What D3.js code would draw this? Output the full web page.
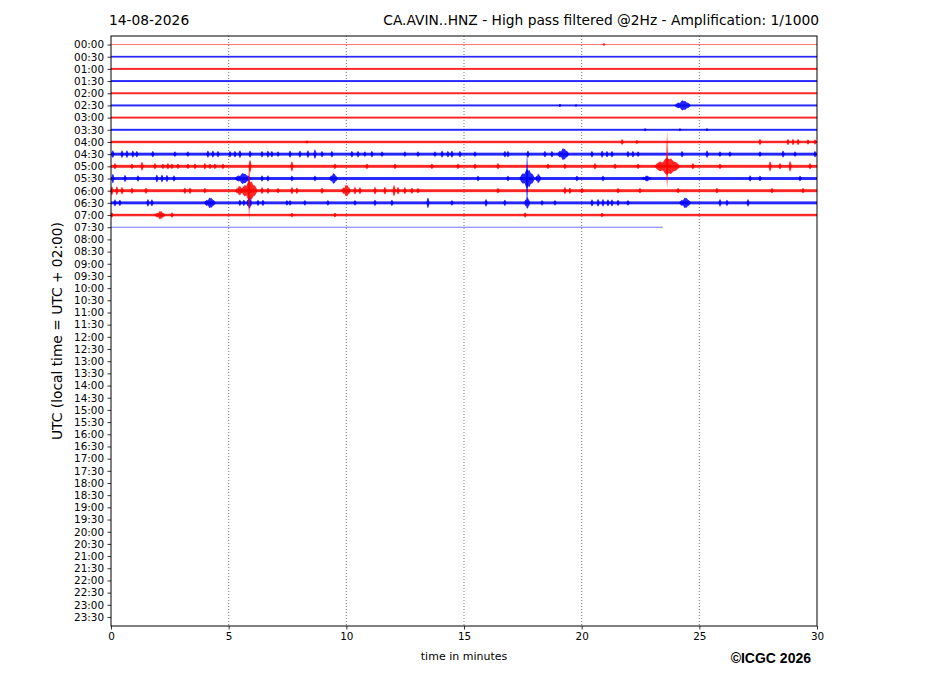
<!DOCTYPE html>
<html>
<head>
<meta charset="utf-8">
<script src="https://cdn.jsdelivr.net/npm/d3@7"></script>
<style>
  body { margin: 0; background: #fff; }
  svg text { font-family: "DejaVu Sans", sans-serif; fill: #000; }
</style>
</head>
<body>
<div id="chart"></div>
<script>
// helicorder rows: one row per 30 minutes
var rowLabels = ["00:00","00:30","01:00","01:30","02:00","02:30","03:00","03:30",
  "04:00","04:30","05:00","05:30","06:00","06:30","07:00","07:30",
  "08:00","08:30","09:00","09:30","10:00","10:30","11:00","11:30",
  "12:00","12:30","13:00","13:30","14:00","14:30","15:00","15:30",
  "16:00","16:30","17:00","17:30","18:00","18:30","19:00","19:30",
  "20:00","20:30","21:00","21:30","22:00","22:30","23:00","23:30"];
var xTicks = [0, 5, 10, 15, 20, 25, 30];
var gridMinutes = [5, 10, 15, 20, 25];

// background noise half-height per recorded row (in row units)
var rowNoise = [0.04, 0.07, 0.08, 0.08, 0.08, 0.08, 0.08, 0.08,
  0.1, 0.12, 0.12, 0.12, 0.12, 0.12, 0.1, 0.04];
// last minute of data in each row
var rowEnd = [30, 30, 30, 30, 30, 30, 30, 30, 30, 30, 30, 30, 30, 30, 30, 23.45];

// short spikes: [row, minute, amplitude]
var spikes = [
  [0, 20.95, 0.1],
  [5, 19.08, 0.12], [5, 19.76, 0.1],
  [7, 22.7, 0.12], [7, 24.18, 0.12], [7, 25.33, 0.12],
  [8, 8.33, 0.12], [8, 21.72, 0.22], [8, 22.35, 0.16], [8, 27.58, 0.25], [8, 28.77, 0.25],
  [8, 28.98, 0.25], [8, 29.2, 0.25], [8, 29.62, 0.2], [8, 29.92, 0.2],
  [9, 0.08, 0.3], [9, 0.47, 0.3], [9, 0.68, 0.3], [9, 0.93, 0.28], [9, 1.1, 0.25], [9, 1.78, 0.25],
  [9, 2.72, 0.22], [9, 3.27, 0.22], [9, 4.12, 0.28], [9, 4.33, 0.28], [9, 4.55, 0.25], [9, 5.06, 0.25],
  [9, 5.27, 0.25], [9, 5.48, 0.3], [9, 5.91, 0.28], [9, 6.42, 0.25], [9, 6.67, 0.28], [9, 6.84, 0.25],
  [9, 7.1, 0.22], [9, 7.61, 0.28], [9, 8.03, 0.28], [9, 8.37, 0.3], [9, 8.67, 0.38], [9, 8.97, 0.25],
  [9, 9.39, 0.25], [9, 10.24, 0.25], [9, 10.5, 0.25], [9, 10.79, 0.22], [9, 11.09, 0.25], [9, 11.52, 0.22],
  [9, 12.49, 0.22], [9, 13.05, 0.22], [9, 13.77, 0.22], [9, 14.07, 0.28], [9, 14.32, 0.25], [9, 14.49, 0.28],
  [9, 14.83, 0.25], [9, 15.47, 0.22], [9, 16.74, 0.25], [9, 16.87, 0.25], [9, 17.72, 0.28], [9, 18.44, 0.25],
  [9, 18.74, 0.25], [9, 20.44, 0.25], [9, 20.87, 0.28], [9, 21.08, 0.25], [9, 21.29, 0.25], [9, 21.97, 0.25],
  [9, 22.18, 0.25], [9, 22.4, 0.22], [9, 24.27, 0.25], [9, 25.33, 0.3], [9, 25.88, 0.22], [9, 26.3, 0.22],
  [9, 27.58, 0.22], [9, 28.56, 0.28], [9, 29.07, 0.22], [9, 29.92, 0.25],
  [10, 0.17, 0.25], [10, 0.89, 0.22], [10, 1.32, 0.35], [10, 1.87, 0.25], [10, 2.21, 0.22], [10, 2.42, 0.25],
  [10, 2.59, 0.22], [10, 2.85, 0.22], [10, 3.27, 0.22], [10, 3.57, 0.22], [10, 3.99, 0.25], [10, 4.21, 0.22],
  [10, 4.42, 0.22], [10, 4.76, 0.22], [10, 5.91, 0.5], [10, 7.69, 0.4], [10, 9.52, 0.22], [10, 10.88, 0.22],
  [10, 12.07, 0.22], [10, 13.64, 0.22], [10, 14.75, 0.22], [10, 15.47, 0.22], [10, 16.45, 0.25], [10, 18.57, 0.22],
  [10, 19.29, 0.22], [10, 20.57, 0.25], [10, 21.42, 0.22], [10, 22.4, 0.22], [10, 24.73, 0.25], [10, 25.88, 0.22],
  [10, 28.01, 0.4], [10, 28.43, 0.25], [10, 28.86, 0.42], [10, 29.71, 0.25],
  [11, 0.08, 0.38], [11, 0.6, 0.28], [11, 1.15, 0.25], [11, 1.95, 0.3], [11, 2.17, 0.3], [11, 2.38, 0.28],
  [11, 2.68, 0.25], [11, 6.42, 0.25], [11, 6.67, 0.25], [11, 7.69, 0.22], [11, 8.67, 0.22], [11, 15.6, 0.22],
  [11, 16.87, 0.22], [11, 19.8, 0.22], [11, 20.91, 0.22], [11, 27.16, 0.25], [11, 27.58, 0.22], [11, 29.28, 0.22],
  [12, 0.04, 0.35], [12, 0.25, 0.35], [12, 0.47, 0.3], [12, 0.89, 0.25], [12, 1.49, 0.25], [12, 3.14, 0.25],
  [12, 3.36, 0.25], [12, 3.99, 0.22], [12, 6.42, 0.28], [12, 6.67, 0.25], [12, 7.1, 0.22], [12, 7.69, 0.28],
  [12, 7.9, 0.25], [12, 8.97, 0.25], [12, 10.37, 0.3], [12, 10.58, 0.28], [12, 11.22, 0.3], [12, 11.64, 0.3],
  [12, 12.03, 0.45], [12, 12.2, 0.3], [12, 12.49, 0.28], [12, 12.79, 0.25], [12, 13.05, 0.22], [12, 16.45, 0.22],
  [12, 19.29, 0.28], [12, 19.5, 0.25], [12, 20.02, 0.22], [12, 21.55, 0.22], [12, 22.48, 0.22], [12, 24.1, 0.22],
  [12, 25.75, 0.22], [12, 28.09, 0.22], [12, 29.41, 0.22],
  [13, 0.17, 0.28], [13, 0.38, 0.25], [13, 1.57, 0.3], [13, 1.74, 0.28], [13, 5.48, 0.25], [13, 5.65, 0.25],
  [13, 6.25, 0.25], [13, 6.46, 0.25], [13, 7.48, 0.22], [13, 7.61, 0.22], [13, 8.24, 0.22], [13, 9.22, 0.22],
  [13, 10.37, 0.22], [13, 11.22, 0.25], [13, 11.94, 0.25], [13, 13.47, 0.42], [13, 14.49, 0.22], [13, 15.94, 0.3],
  [13, 16.74, 0.25], [13, 18.32, 0.22], [13, 18.87, 0.22], [13, 20.44, 0.28], [13, 20.7, 0.3], [13, 20.91, 0.3],
  [13, 21.12, 0.28], [13, 21.29, 0.28], [13, 21.55, 0.25], [13, 21.97, 0.22], [13, 25.88, 0.3], [13, 26.18, 0.25],
  [13, 27.07, 0.3],
  [14, 0.04, 0.2], [14, 2.6, 0.2], [14, 7.69, 0.18], [14, 9.52, 0.18], [14, 17.6, 0.2], [14, 20.87, 0.18]
];

// wave trains: [row, centre minute, amplitude, duration]
var bursts = [
  [5, 24.29, 0.42, 0.7],
  [9, 19.21, 0.5, 0.5],
  [10, 23.63, 0.72, 1.1],
  [11, 5.6, 0.45, 0.7], [11, 9.45, 0.45, 0.35], [11, 17.68, 0.8, 0.65], [11, 18.15, 0.4, 0.25], [11, 22.75, 0.25, 0.4],
  [12, 5.45, 0.4, 0.35], [12, 5.87, 0.85, 0.7], [12, 9.99, 0.5, 0.4],
  [13, 4.2, 0.45, 0.5], [13, 5.87, 0.5, 0.25], [13, 17.68, 0.5, 0.25], [13, 24.39, 0.45, 0.5],
  [14, 2.08, 0.35, 0.45]
];

// thin peaks of the strongest arrivals: [row, minute, up, down]
var peaks = [
  [10, 23.63, 2.95, 1.8],
  [11, 17.68, 2.3, 2.6],
  [12, 5.87, 2.5, 2.5]
];

var width = 927, height = 696;
var margin = { top: 36, right: 110, bottom: 70, left: 111 };
var plotW = width - margin.left - margin.right;
var plotH = height - margin.top - margin.bottom;

var svg = d3.select("#chart").append("svg")
  .attr("width", width)
  .attr("height", height);

var g = svg.append("g")
  .attr("transform", "translate(" + margin.left + "," + margin.top + ")");

var xScale = d3.scaleLinear().domain([0, 30]).range([0, plotW]);
var yScale = d3.scaleLinear().domain([-0.7, rowLabels.length - 0.26]).range([0, plotH]);

function rowColor(r) { return r % 2 === 0 ? "#ff0000" : "#0000ff"; }

// dotted vertical grid
g.selectAll(".grid")
  .data(gridMinutes)
  .enter().append("line")
  .attr("class", "grid")
  .attr("x1", function (d) { return xScale(d); })
  .attr("x2", function (d) { return xScale(d); })
  .attr("y1", 0)
  .attr("y2", plotH)
  .attr("stroke", "#555")
  .attr("stroke-width", 0.8)
  .attr("stroke-dasharray", "1,2");

var traces = g.append("g").attr("class", "traces");

/*  background noise band of each row  */
traces.selectAll(".noise")
  .data(rowNoise)
  .enter().append("rect")
  .attr("class", "noise")
  .attr("x", 0)
  .attr("y", function (d, i) { return yScale(i - d); })
  .attr("width", function (d, i) { return xScale(rowEnd[i]); })
  .attr("height", function (d, i) { return Math.max(1, yScale(i + d) - yScale(i - d)); })
  .attr("fill", function (d, i) { return rowColor(i); })
  .attr("fill-opacity", function (d, i) { return (i === 0 || i === 15) ? 0.55 : 0.85; });

var area = d3.area()
  .x(function (p) { return xScale(p[0]); })
  .y0(function (p) { return yScale(p[2] + p[1]); })
  .y1(function (p) { return yScale(p[2] - p[1]); });

/*  spikes as narrow bars  */
var spikeShape = [[-0.07, 0], [-0.02, 1], [0.02, 0.9], [0.07, 0]];
traces.selectAll(".spike")
  .data(spikes)
  .enter().append("path")
  .attr("class", "spike")
  .attr("d", function (d) {
    return area(spikeShape.map(function (s) { return [d[1] + s[0], s[1] * d[2], d[0]]; }));
  })
  .attr("fill", function (d) { return rowColor(d[0]); })
  .attr("fill-opacity", 0.85);

/*  wave trains as jagged spindles centred on their peak  */
var spindle = [[-0.5, 0], [-0.38, 0.35], [-0.27, 0.55], [-0.17, 0.45], [-0.07, 0.85], [0, 1],
  [0.07, 0.8], [0.15, 0.88], [0.25, 0.55], [0.34, 0.5], [0.44, 0.25], [0.5, 0]];
traces.selectAll(".burst")
  .data(bursts)
  .enter().append("path")
  .attr("class", "burst")
  .attr("d", function (d) {
    return area(spindle.map(function (s) {
      return [d[1] + s[0] * d[3], s[1] * d[2], d[0]];
    }));
  })
  .attr("fill", function (d) { return rowColor(d[0]); })
  .attr("fill-opacity", 0.85);

/*  peaks of strongest arrivals  */
traces.selectAll(".peak")
  .data(peaks)
  .enter().append("path")
  .attr("class", "peak")
  .attr("d", function (d) {
    var w = 0.05;
    return "M" + xScale(d[1] - w) + "," + yScale(d[0]) +
      "L" + xScale(d[1]) + "," + yScale(d[0] - d[2]) +
      "L" + xScale(d[1] + w) + "," + yScale(d[0]) +
      "L" + xScale(d[1]) + "," + yScale(d[0] + d[3]) + "Z";
  })
  .attr("fill", function (d) { return rowColor(d[0]); })
  .attr("fill-opacity", 0.8);

// frame
g.append("rect")
  .attr("x", 0).attr("y", 0)
  .attr("width", plotW).attr("height", plotH)
  .attr("fill", "none")
  .attr("stroke", "#000")
  .attr("stroke-width", 1);

// axes
var yAxis = g.append("g")
  .attr("class", "y axis")
  .call(d3.axisLeft(yScale)
    .tickValues(d3.range(rowLabels.length))
    .tickFormat(function (d) { return rowLabels[d]; })
    .tickSize(3.5).tickPadding(3.5));

var xAxis = g.append("g")
  .attr("class", "x axis")
  .attr("transform", "translate(0," + plotH + ")")
  .call(d3.axisBottom(xScale).tickValues(xTicks).tickSize(3.5).tickPadding(3.5));

g.selectAll(".axis .domain").remove();
g.selectAll(".axis .tick line").attr("stroke", "#000").attr("stroke-width", 0.8);
g.selectAll(".axis .tick text")
  .style("font-family", "DejaVu Sans")
  .style("font-size", "10.4px")
  .attr("fill", "#000");

// titles and labels
svg.append("text")
  .attr("x", 109).attr("y", 25)
  .style("font-size", "13.8px")
  .text("14-08-2026");

svg.append("text")
  .attr("x", 819).attr("y", 25)
  .attr("text-anchor", "end")
  .style("font-size", "13.8px")
  .text("CA.AVIN..HNZ - High pass filtered @2Hz - Amplification: 1/1000");

svg.append("text")
  .attr("transform", "translate(62," + (margin.top + plotH / 2) + ") rotate(-90)")
  .attr("text-anchor", "middle")
  .style("font-size", "13.8px")
  .text("UTC (local time = UTC + 02:00)");

svg.append("text")
  .attr("x", margin.left + plotW / 2).attr("y", 660)
  .attr("text-anchor", "middle")
  .style("font-size", "11px")
  .text("time in minutes");

svg.append("text")
  .attr("x", 811).attr("y", 663)
  .attr("text-anchor", "end")
  .style("font-family", "Liberation Sans, Arial, sans-serif")
  .style("font-weight", "bold")
  .style("font-size", "14px")
  .text("\u00a9ICGC 2026");
</script>
</body>
</html>
